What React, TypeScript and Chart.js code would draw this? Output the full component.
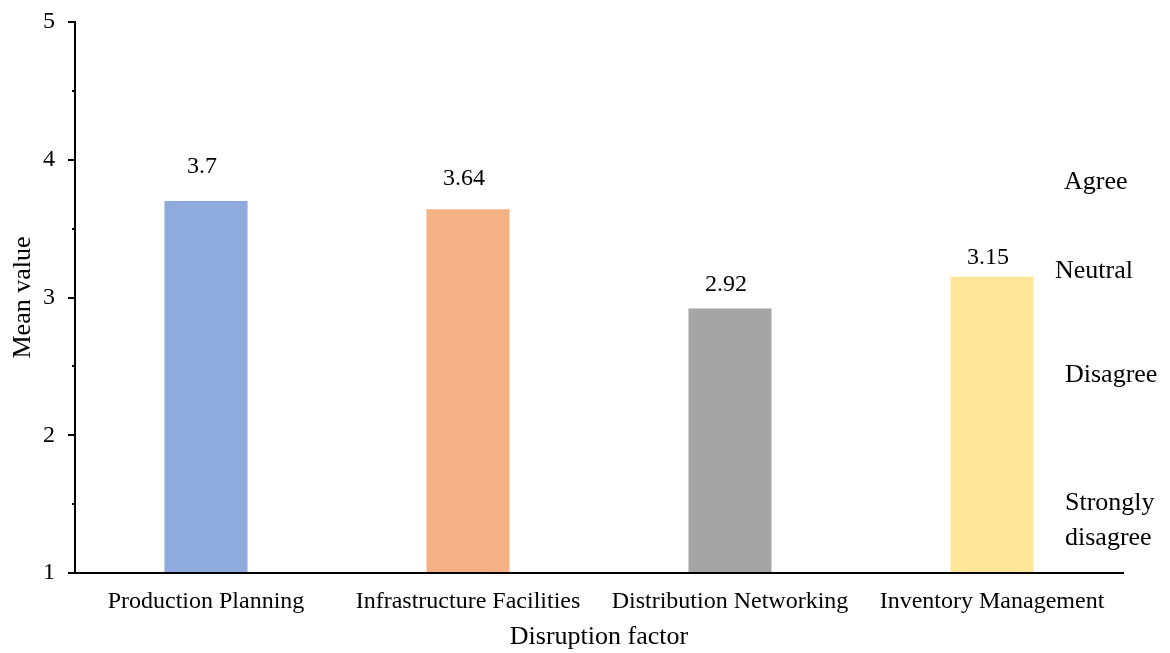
import React, { useEffect, useRef } from "react";
import { Chart, registerables } from "chart.js";

Chart.register(...registerables);

const categories = ["Production Planning", "Infrastructure Facilities", "Distribution Networking", "Inventory Management"];
const meanValues = [3.7, 3.64, 2.92, 3.15];
const barColors = ["#8FAADC", "#F4B183", "#A5A5A5", "#FFE699"];
const scaleLabels = ["Agree", "Neutral", "Disagree", "Strongly", "disagree"];
const scaleLabelValues = [3.835, 3.19, 2.435, 1.505, 1.255];
const yMin = 1;
const yMax = 5;

const FONT = '"Liberation Serif", "Times New Roman", serif';
const LABEL_OFFSETS = [34, 31, 24, 19];
const SCALE_LABEL_X = [1064, 1055, 1065, 1065, 1065];

const overlay = {
  id: "overlay",
  afterDraw(chart: any) {
    const { ctx, scales } = chart;
    const y = scales.y;
    const ca = chart.chartArea;
    ctx.save();
    // minor ticks
    ctx.strokeStyle = "#000";
    ctx.lineWidth = 2;
    for (let v = yMin + 0.5; v < yMax; v += 1) {
      const py = Math.round(y.getPixelForValue(v));
      ctx.beginPath();
      ctx.moveTo(ca.left - 3, py);
      ctx.lineTo(ca.left, py);
      ctx.stroke();
    }
    // data labels
    ctx.fillStyle = "#000";
    ctx.font = `24px ${FONT}`;
    ctx.textAlign = "center";
    ctx.textBaseline = "middle";
    const meta = chart.getDatasetMeta(0);
    meta.data.forEach((bar: any, i: number) => {
      ctx.fillText(String(meanValues[i]), bar.x - 4, bar.y - LABEL_OFFSETS[i]);
    });
    // right scale labels
    ctx.font = `26px ${FONT}`;
    ctx.textAlign = "left";
    scaleLabels.forEach((t, i) => {
      ctx.fillText(t, SCALE_LABEL_X[i], y.getPixelForValue(scaleLabelValues[i]));
    });
    // axis titles
    ctx.font = `26px ${FONT}`;
    ctx.textAlign = "center";
    ctx.fillText("Disruption factor", (ca.left + ca.right) / 2, 637);
    ctx.save();
    ctx.translate(23, (ca.top + ca.bottom) / 2);
    ctx.rotate(-Math.PI / 2);
    ctx.fillText("Mean value", 0, 0);
    ctx.restore();
    ctx.restore();
  },
};

export default function App() {
  const ref = useRef<HTMLCanvasElement>(null);
  useEffect(() => {
    const chart = new Chart(ref.current!, {
      type: "bar",
      data: {
        labels: categories,
        datasets: [
          {
            data: meanValues.map((v) => v),
            backgroundColor: barColors,
            borderWidth: 0,
            barPercentage: 0.317,
            categoryPercentage: 1,
            base: yMin,
          },
        ],
      },
      options: {
        animation: false,
        responsive: false,
        maintainAspectRatio: false,
        devicePixelRatio: 1,
        layout: { padding: { top: 22, right: 47, left: 0, bottom: 0 } },
        plugins: { legend: { display: false }, tooltip: { enabled: false } },
        scales: {
          x: {
            afterFit: (s: any) => {
              s.height = 80;
              s.paddingLeft = 0;
              s.paddingRight = 0;
            },
            grid: { display: false, drawTicks: false },
            border: { color: "#000", width: 2 },
            ticks: { color: "#000", font: { family: FONT, size: 24 }, padding: 14, maxRotation: 0, autoSkip: false },
          },
          y: {
            min: yMin,
            max: yMax,
            afterFit: (s: any) => {
              s.width = 75;
              s.paddingTop = 0;
              s.paddingBottom = 0;
            },
            border: { color: "#000", width: 2 },
            grid: {
              drawOnChartArea: false,
              drawTicks: true,
              tickLength: 7,
              lineWidth: 2,
              color: (c: any) => (c.tick && Number.isInteger(c.tick.value) ? "#000" : "rgba(0,0,0,0)"),
            },
            ticks: {
              stepSize: 0.5,
              color: "#000",
              padding: 13,
              font: { family: FONT, size: 24 },
              callback: (v: any) => (Number.isInteger(Number(v)) ? String(v) : ""),
            },
          },
        },
      },
      plugins: [overlay],
    });
    return () => chart.destroy();
  }, []);
  return (
    <div style={{ position: "fixed", left: 0, top: 0, width: 1170, height: 653, background: "#fff" }}>
      <canvas ref={ref} width={1170} height={653} style={{ width: 1170, height: 653 }} />
    </div>
  );
}
